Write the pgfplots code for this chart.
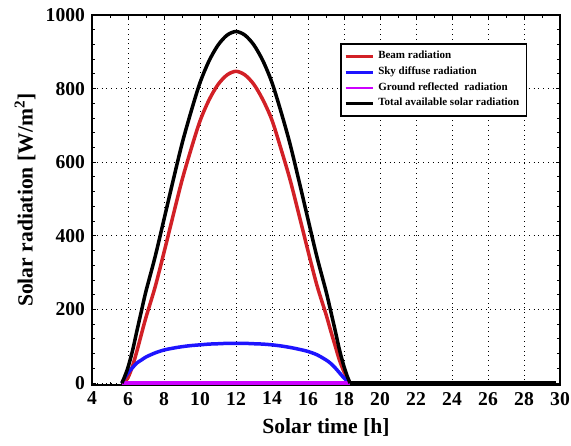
\documentclass[border=0pt]{standalone}
\usepackage{pgfplots}
\pgfplotsset{compat=1.18}
\usepackage{fontspec}
\setmainfont{Liberation Serif}
\definecolor{beamred}{RGB}{210,32,38}
\definecolor{skyblue}{RGB}{30,20,255}
\definecolor{groundmag}{RGB}{205,0,255}
\begin{document}
\begin{tikzpicture}
\begin{axis}[
  scale only axis,
  width=234pt, height=185pt,
  xmin=4, xmax=30, ymin=-5, ymax=1000,
  xtick={4,6,...,30}, ytick={0,200,...,1000},
  minor x tick num=1, minor y tick num=4,
  tick align=inside,
  major tick length=2.2pt, minor tick length=1.3pt,
  every tick/.style={black, line width=0.5pt},
  axis line style={line width=0.9pt},
  grid=major,
  major grid style={black, dotted, line width=0.5pt},
  /pgf/number format/assume math mode=true,
  ticklabel style={font=\bfseries\fontsize{9.8}{11}\selectfont},
  /pgf/number format/1000 sep={},
  xlabel={Solar time [h]},
  ylabel={Solar radiation [W/m\textsuperscript{2}]},
  label style={font=\bfseries\fontsize{10.8}{12}\selectfont},
  xlabel style={at={(rel axis cs:0.5,-0.116)}, anchor=center},
  ylabel style={at={(rel axis cs:-0.143,0.5)}, anchor=center},
  legend style={at={(rel axis cs:0.53,0.924)}, anchor=north west,
    font=\bfseries\fontsize{5.5}{6}\selectfont, draw=black, line width=0.9pt,
    row sep=-1.5pt, inner sep=1.6pt},
  legend cell align=left,
  legend image code/.code={\draw[#1, line width=1.4pt] (0cm,0cm) -- (0.48cm,0cm);},
]
\coordinate (bbBL) at (rel axis cs:-0.1966,-0.1649);
\coordinate (bbTR) at (rel axis cs:1.0235,1.0405);
% Beam radiation
\addplot[beamred, line width=1.75pt, smooth] coordinates {
(5.66,0) (5.8,3) (6.0,15) (6.25,46) (6.5,88) (6.75,134) (7.0,179) (7.5,260)
(8.0,355) (8.5,454) (9.0,551) (9.5,635) (10.0,712) (10.5,769) (11.0,811)
(11.5,837) (12.0,847) (12.5,837) (13.0,811) (13.5,769) (14.0,714) (14.5,636)
(15.0,553) (15.5,457) (16.0,359) (16.5,265) (17.0,187) (17.25,144) (17.5,103)
(17.75,62) (18.0,31) (18.2,11) (18.34,0)};
\addlegendentry{Beam radiation}
% Sky diffuse radiation
\addplot[skyblue, line width=1.75pt, smooth] coordinates {
(5.66,0) (5.8,13) (6.0,28) (6.25,42) (6.5,55) (6.75,63) (7.0,71) (7.5,82)
(8.0,90) (8.5,95) (9.0,99) (9.5,102) (10.0,104) (10.5,106) (11.0,107)
(11.5,108) (12.0,108) (12.5,108) (13.0,107) (13.5,106) (14.0,104) (14.5,101)
(15.0,97) (15.5,92) (16.0,86) (16.5,77) (17.0,63) (17.25,54) (17.5,42)
(17.75,28) (18.0,14) (18.2,5) (18.34,0)};
\addlegendentry{Sky diffuse radiation}
\addplot[beamred, line width=1.75pt, forget plot] coordinates {(18.34,0) (29.8,0)};
\addplot[skyblue, line width=1.75pt, forget plot] coordinates {(18.34,0) (29.8,0)};
% Ground reflected radiation
\addplot[groundmag, line width=1.75pt] coordinates {(5.66,0) (12.0,0) (18.34,0) (29.8,0)};
\addlegendentry{Ground reflected\ \ radiation}
% Total available solar radiation
\addplot[black, line width=1.75pt, smooth] coordinates {
(5.66,0) (5.8,16) (6.0,43) (6.25,88) (6.5,143) (6.75,197) (7.0,250) (7.5,342)
(8.0,445) (8.5,549) (9.0,650) (9.5,737) (10.0,816) (10.5,875) (11.0,918)
(11.5,945) (12.0,955) (12.5,945) (13.0,918) (13.5,875) (14.0,816) (14.5,737)
(15.0,650) (15.5,549) (16.0,445) (16.5,342) (17.0,250) (17.25,198) (17.5,145)
(17.75,90) (18.0,45) (18.2,16) (18.34,0)};
\addlegendentry{Total available solar radiation}
\addplot[black, line width=1.75pt, forget plot] coordinates {(18.34,0) (29.8,0)};
\end{axis}
\pgfresetboundingbox
\path (bbBL) rectangle (bbTR);
\end{tikzpicture}
\end{document}
